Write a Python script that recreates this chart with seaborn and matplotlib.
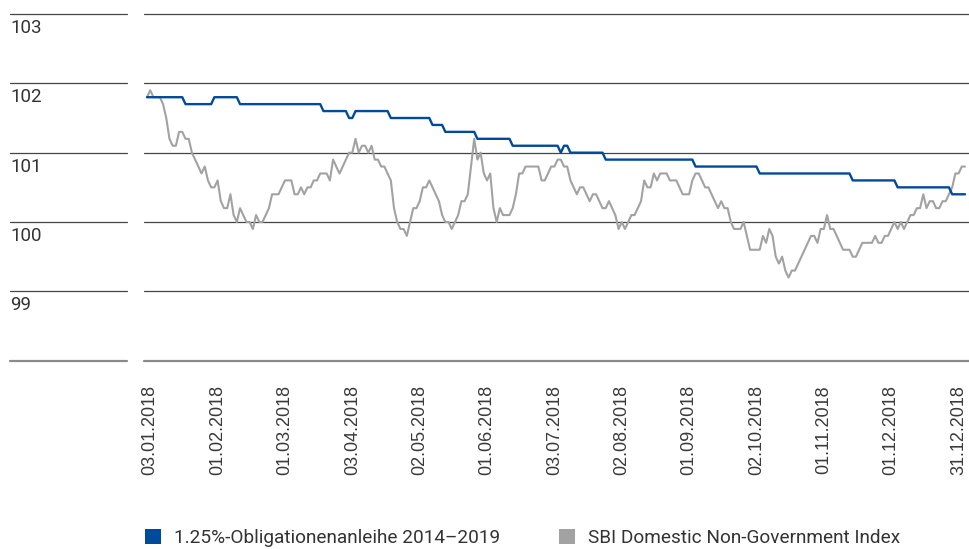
import numpy as np
import pandas as pd
import matplotlib
matplotlib.use("Agg")
import matplotlib.pyplot as plt
from matplotlib.patches import Patch
import seaborn as sns

# daily closing values 2018 (trading days 03.01. - 31.12.)
bond = [
    101.8, 101.8, 101.8, 101.8, 101.8, 101.8, 101.8, 101.8, 101.8, 101.8,
    101.8, 101.8, 101.7, 101.7, 101.7, 101.7, 101.7, 101.7, 101.7, 101.7,
    101.7, 101.8, 101.8, 101.8, 101.8, 101.8, 101.8, 101.8, 101.8, 101.7,
    101.7, 101.7, 101.7, 101.7, 101.7, 101.7, 101.7, 101.7, 101.7, 101.7,
    101.7, 101.7, 101.7, 101.7, 101.7, 101.7, 101.7, 101.7, 101.7, 101.7,
    101.7, 101.7, 101.7, 101.7, 101.7, 101.6, 101.6, 101.6, 101.6, 101.6,
    101.6, 101.6, 101.6, 101.5, 101.5, 101.6, 101.6, 101.6, 101.6, 101.6,
    101.6, 101.6, 101.6, 101.6, 101.6, 101.6, 101.5, 101.5, 101.5, 101.5,
    101.5, 101.5, 101.5, 101.5, 101.5, 101.5, 101.5, 101.5, 101.5, 101.4,
    101.4, 101.4, 101.4, 101.3, 101.3, 101.3, 101.3, 101.3, 101.3, 101.3,
    101.3, 101.3, 101.3, 101.2, 101.2, 101.2, 101.2, 101.2, 101.2, 101.2,
    101.2, 101.2, 101.2, 101.2, 101.1, 101.1, 101.1, 101.1, 101.1, 101.1,
    101.1, 101.1, 101.1, 101.1, 101.1, 101.1, 101.1, 101.1, 101.1, 101.0,
    101.1, 101.1, 101.0, 101.0, 101.0, 101.0, 101.0, 101.0, 101.0, 101.0,
    101.0, 101.0, 101.0, 100.9, 100.9, 100.9, 100.9, 100.9, 100.9, 100.9,
    100.9, 100.9, 100.9, 100.9, 100.9, 100.9, 100.9, 100.9, 100.9, 100.9,
    100.9, 100.9, 100.9, 100.9, 100.9, 100.9, 100.9, 100.9, 100.9, 100.9,
    100.9, 100.8, 100.8, 100.8, 100.8, 100.8, 100.8, 100.8, 100.8, 100.8,
    100.8, 100.8, 100.8, 100.8, 100.8, 100.8, 100.8, 100.8, 100.8, 100.8,
    100.8, 100.7, 100.7, 100.7, 100.7, 100.7, 100.7, 100.7, 100.7, 100.7,
    100.7, 100.7, 100.7, 100.7, 100.7, 100.7, 100.7, 100.7, 100.7, 100.7,
    100.7, 100.7, 100.7, 100.7, 100.7, 100.7, 100.7, 100.7, 100.7, 100.7,
    100.6, 100.6, 100.6, 100.6, 100.6, 100.6, 100.6, 100.6, 100.6, 100.6,
    100.6, 100.6, 100.6, 100.6, 100.5, 100.5, 100.5, 100.5, 100.5, 100.5,
    100.5, 100.5, 100.5, 100.5, 100.5, 100.5, 100.5, 100.5, 100.5, 100.5,
    100.5, 100.4, 100.4, 100.4, 100.4, 100.4,
]

sbi = [
    101.8, 101.9, 101.8, 101.8, 101.8, 101.7, 101.5, 101.2, 101.1, 101.1,
    101.3, 101.3, 101.2, 101.2, 101.0, 100.9, 100.8, 100.7, 100.8, 100.6,
    100.5, 100.5, 100.6, 100.3, 100.2, 100.2, 100.4, 100.1, 100.0, 100.2,
    100.1, 100.0, 100.0, 99.9, 100.1, 100.0, 100.0, 100.1, 100.2, 100.4,
    100.4, 100.4, 100.5, 100.6, 100.6, 100.6, 100.4, 100.4, 100.5, 100.4,
    100.5, 100.5, 100.6, 100.6, 100.7, 100.7, 100.7, 100.6, 100.9, 100.8,
    100.7, 100.8, 100.9, 101.0, 101.0, 101.2, 101.0, 101.1, 101.1, 101.0,
    101.1, 100.9, 100.9, 100.8, 100.8, 100.7, 100.6, 100.2, 100.0, 99.9,
    99.9, 99.8, 100.0, 100.2, 100.2, 100.3, 100.5, 100.5, 100.6, 100.5,
    100.4, 100.3, 100.1, 100.0, 100.0, 99.9, 100.0, 100.1, 100.3, 100.3,
    100.4, 100.8, 101.2, 100.9, 101.0, 100.7, 100.6, 100.7, 100.2, 100.0,
    100.2, 100.1, 100.1, 100.1, 100.2, 100.4, 100.7, 100.7, 100.8, 100.8,
    100.8, 100.8, 100.8, 100.6, 100.6, 100.7, 100.8, 100.8, 100.9, 100.9,
    100.8, 100.8, 100.6, 100.5, 100.4, 100.5, 100.5, 100.4, 100.3, 100.4,
    100.4, 100.3, 100.2, 100.2, 100.3, 100.2, 100.1, 99.9, 100.0, 99.9,
    100.0, 100.1, 100.1, 100.2, 100.3, 100.6, 100.5, 100.5, 100.7, 100.6,
    100.7, 100.7, 100.7, 100.6, 100.6, 100.6, 100.5, 100.4, 100.4, 100.4,
    100.6, 100.7, 100.7, 100.6, 100.5, 100.5, 100.4, 100.3, 100.2, 100.3,
    100.2, 100.2, 100.0, 99.9, 99.9, 99.9, 100.0, 99.8, 99.6, 99.6,
    99.6, 99.6, 99.8, 99.7, 99.9, 99.8, 99.5, 99.4, 99.5, 99.3,
    99.2, 99.3, 99.3, 99.4, 99.5, 99.6, 99.7, 99.8, 99.8, 99.7,
    99.9, 99.9, 100.1, 99.9, 99.9, 99.8, 99.7, 99.6, 99.6, 99.6,
    99.5, 99.5, 99.6, 99.7, 99.7, 99.7, 99.7, 99.8, 99.7, 99.7,
    99.8, 99.8, 99.9, 100.0, 99.9, 100.0, 99.9, 100.0, 100.1, 100.1,
    100.2, 100.2, 100.4, 100.2, 100.3, 100.3, 100.2, 100.2, 100.3, 100.3,
    100.4, 100.5, 100.7, 100.7, 100.8, 100.8,
]

# tick labels sit on the first trading day of each month (index into the series)
tick_days = [1, 22, 43, 64, 85, 106, 127, 148, 169, 190, 211, 232, 253]
tick_labels = ["03.01.2018", "01.02.2018", "01.03.2018", "03.04.2018",
               "02.05.2018", "01.06.2018", "03.07.2018", "02.08.2018",
               "01.09.2018", "02.10.2018", "01.11.2018", "01.12.2018",
               "31.12.2018"]
y_levels = [98, 99, 100, 101, 102, 103]
y_labels = ["99", "100", "101", "102", "103"]
series_names = ["1.25%-Obligationenanleihe 2014–2019",
                "SBI Domestic Non-Government Index"]

BLUE = "#004a9b"
GREY = "#a2a2a2"
GRID = "#454545"
TEXT = "#333333"

df = pd.DataFrame({
    "day": np.arange(len(sbi)),
    "bond": bond,
    "sbi": sbi,
})

sns.set_style("white")
plt.rcParams["font.family"] = ["Liberation Sans", "DejaVu Sans"]

W, H = 970, 549
fig = plt.figure(figsize=(W / 100, H / 100), dpi=100)

top_px, bot_px = 14.0, 360.7
ax_b = (H - bot_px) / H
ax_h = (bot_px - top_px) / H

# main plot area
ax = fig.add_axes([144 / W, ax_b, (W - 144) / W, ax_h])
# separate column on the left holding the value labels
ax_lab = fig.add_axes([10 / W, ax_b, 117.3 / W, ax_h])

for a in (ax, ax_lab):
    a.set_ylim(98, 103)
    for v in y_levels:
        if v == 98:
            a.axhline(v, color="#8a8a8a", lw=1.6, zorder=1, clip_on=False)
        else:
            a.axhline(v, color=GRID, lw=0.9, zorder=1, clip_on=False)
    for s in a.spines.values():
        s.set_visible(False)

sns.lineplot(data=df, x="day", y="sbi", ax=ax, color=GREY, lw=1.5, zorder=3)
sns.lineplot(data=df, x="day", y="bond", ax=ax, color=BLUE, lw=1.7, zorder=4)

ax.set_xlim(-0.94, len(sbi) - 1 + 1.56)
ax.set_yticks([])
ax.set_xlabel("")
ax.set_ylabel("")
ax.set_xticks(tick_days)
ax.set_xticklabels(tick_labels, rotation=90, fontsize=13, color="#3a3a3a",
                   family=["Liberation Sans", "DejaVu Sans"])
ax.tick_params(axis="x", length=0, pad=17.5)

ax_lab.set_xlim(0, 1)
ax_lab.set_xticks([])
ax_lab.set_yticks([])
for lab, v in zip(y_labels, y_levels[1:]):
    ax_lab.text(0.0, v - 0.2, lab, ha="left", va="center", fontsize=13.5,
                color=TEXT, family=["Roboto", "DejaVu Sans"])

handles = [Patch(facecolor=BLUE, edgecolor="none"),
           Patch(facecolor=GREY, edgecolor="none")]
fig.legend(handles, series_names, loc="center left",
           bbox_to_anchor=(145 / W, 1 - 538 / H), ncol=2, frameon=False,
           borderpad=0, borderaxespad=0, handlelength=0.84,
           handleheight=0.84, handletextpad=0.68, columnspacing=3.1,
           prop={"family": ["Roboto", "DejaVu Sans"], "size": 13.7},
           labelcolor=TEXT)

fig.savefig("out.png", dpi=100)
